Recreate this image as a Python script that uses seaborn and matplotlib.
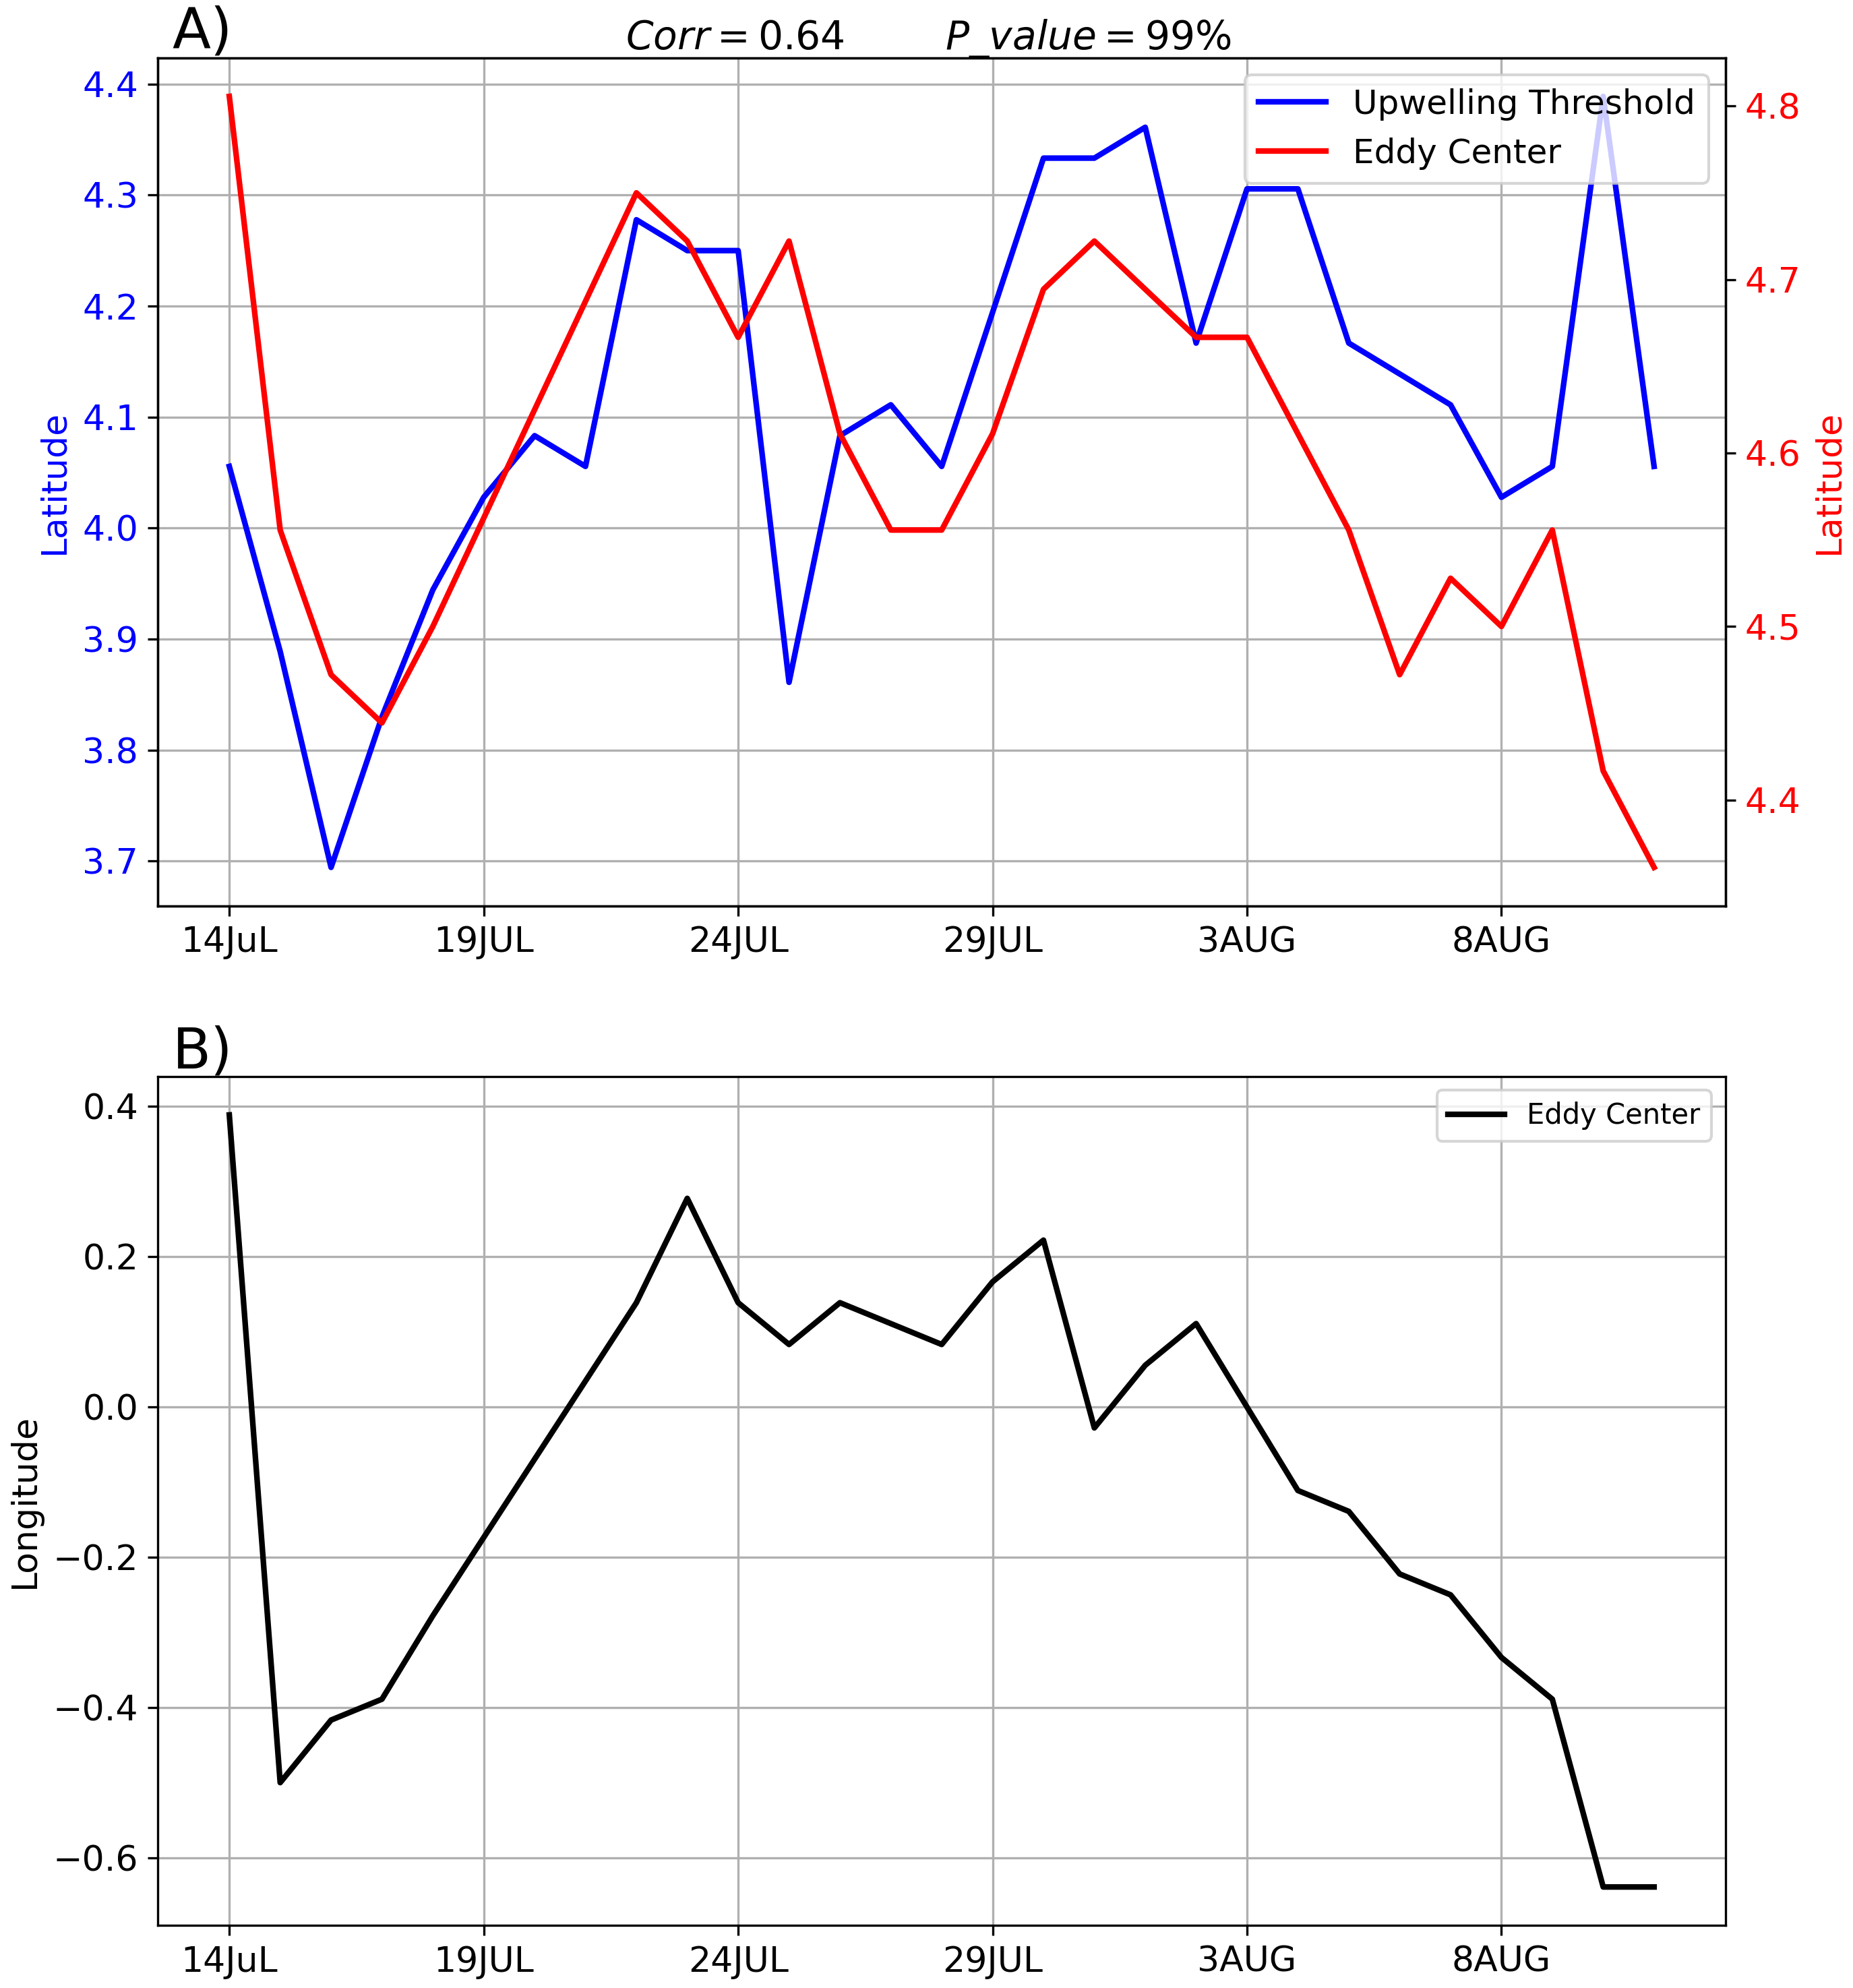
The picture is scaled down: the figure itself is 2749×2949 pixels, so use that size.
import numpy as np
import pandas as pd
import matplotlib
matplotlib.use("Agg")
import matplotlib.pyplot as plt
import seaborn as sns

# days since 14 Jul
days = list(range(29))

# latitude of the upwelling threshold (left axis, panel A)
upwelling_lat = [4.0556, 3.8889, 3.6944, 3.8300, 3.9444, 4.0278, 4.0833, 4.0556,
                 4.2778, 4.2500, 4.2500, 3.8611, 4.0833, 4.1111, 4.0556, 4.1944,
                 4.3333, 4.3333, 4.3611, 4.1667, 4.3056, 4.3056, 4.1667, 4.1389,
                 4.1111, 4.0278, 4.0556, 4.3889, 4.0556]

# latitude of the eddy center (right axis, panel A)
eddy_lat = [4.8056, 4.5556, 4.4722, 4.4444, 4.5000, 4.5625, 4.6250, 4.6875,
            4.7500, 4.7222, 4.6667, 4.7222, 4.6111, 4.5556, 4.5556, 4.6111,
            4.6944, 4.7222, 4.6944, 4.6667, 4.6667, 4.6111, 4.5556, 4.4722,
            4.5278, 4.5000, 4.5556, 4.4167, 4.3611]

# longitude of the eddy center (panel B)
eddy_lon = [0.3889, -0.5000, -0.4167, -0.3889, -0.2778, -0.1736, -0.0694, 0.0347,
            0.1389, 0.2778, 0.1389, 0.0833, 0.1389, 0.1111, 0.0833, 0.1667,
            0.2222, -0.0278, 0.0556, 0.1111, 0.0000, -0.1111, -0.1389, -0.2222,
            -0.2500, -0.3333, -0.3889, -0.6389, -0.6389]

tick_days = [0, 5, 10, 15, 20, 25]
tick_labels = ['14JuL', '19JUL', '24JUL', '29JUL', '3AUG', '8AUG']

df = pd.DataFrame({'day': days, 'up_lat': upwelling_lat,
                   'eddy_lat': eddy_lat, 'eddy_lon': eddy_lon})

fig = plt.figure(figsize=(2749 / 300, 2949 / 300), dpi=300)
ax1 = fig.add_axes([0.0853, 0.5443, 0.8458, 0.4266])
ax3 = fig.add_axes([0.0853, 0.0314, 0.8458, 0.4272])

# panel A
sns.lineplot(data=df, x='day', y='up_lat', ax=ax1, color='blue', lw=2,
             label='Upwelling Threshold')
ax2 = ax1.twinx()
sns.lineplot(data=df, x='day', y='eddy_lat', ax=ax2, color='red', lw=2,
             label='Eddy Center')
ax1.get_legend().remove()
h1, l1 = ax1.get_legend_handles_labels()
h2, l2 = ax2.get_legend_handles_labels()
ax2.legend(h1 + h2, l1 + l2, loc='upper right', fontsize=12)

ax1.grid(True)
ax1.set_xlabel('')
ax1.set_ylabel('Latitude', color='blue', fontsize=12.5)
ax2.set_ylabel('Latitude', color='red', fontsize=12.5)
ax1.tick_params(axis='y', labelcolor='blue', labelsize=12.5)
ax2.tick_params(axis='y', labelcolor='red', labelsize=12.5)
ax1.set_xticks(tick_days)
ax1.set_xticklabels(tick_labels)
ax1.tick_params(axis='x', labelsize=12.5)
ax1.text(0.009, 1.011, 'A)', transform=ax1.transAxes, fontsize=20, va='baseline')
ax1.text(0.4915, 1.0103, r'$Corr=0.64$        $P\_value=99\%$', transform=ax1.transAxes,
         fontsize=14, ha='center', va='baseline')

# panel B
sns.lineplot(data=df, x='day', y='eddy_lon', ax=ax3, color='black', lw=2,
             label='Eddy Center')
ax3.legend(loc='upper right', fontsize=10)
ax3.grid(True)
ax3.set_xlabel('')
ax3.set_ylabel('Longitude', fontsize=12.5)
ax3.set_xticks(tick_days)
ax3.set_xticklabels(tick_labels)
ax3.tick_params(labelsize=12.5)
ax3.text(0.009, 1.0092, 'B)', transform=ax3.transAxes, fontsize=20, va='baseline')

fig.savefig('out.png', dpi=300)
